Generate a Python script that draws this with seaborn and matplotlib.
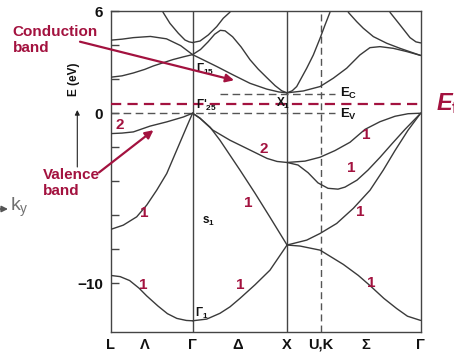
import matplotlib
matplotlib.use("Agg")
import matplotlib.pyplot as plt
import pandas as pd
import seaborn as sns

# ---------------------------------------------------------------
# Silicon band structure along L - Γ - X - U,K - Γ  (k in 2π/a)
# ---------------------------------------------------------------
k_points = [0.0, 0.866, 1.866, 2.220, 3.280]
k_labels = ["L", "Γ", "X", "U,K", "Γ"]
dir_pos = [0.363, 1.347, 2.700]
dir_labels = ["Λ", "Δ", "Σ"]

# band-edge energies (eV)
e_v = 0.0
e_c = 1.15
e_f = 0.55

# --- L -> Γ ------------------------------------------------------
lg_v1_k = [0.0, 0.1, 0.2, 0.3, 0.38, 0.5, 0.6, 0.7, 0.8, 0.866]
lg_v1_e = [-9.55, -9.62, -9.85, -10.3, -10.75, -11.35, -11.8, -12.08, -12.2, -12.22]
lg_v2_k = [0.0, 0.133, 0.275, 0.381, 0.487, 0.593, 0.698, 0.804, 0.866]
lg_v2_e = [-6.84, -6.59, -6.1, -5.41, -4.53, -3.55, -2.18, -0.8, 0.0]
lg_v3_k = [0.0, 0.12, 0.24, 0.416, 0.593, 0.77, 0.866]
lg_v3_e = [-1.2, -1.17, -1.1, -0.76, -0.51, -0.22, 0.0]
lg_c1_k = [0.0, 0.12, 0.24, 0.36, 0.45, 0.56, 0.66, 0.77, 0.866]
lg_c1_e = [2.12, 2.2, 2.37, 2.58, 2.78, 2.98, 3.16, 3.32, 3.45]
lg_c2_k = [0.0, 0.12, 0.24, 0.42, 0.59, 0.74, 0.866]
lg_c2_e = [4.3, 4.36, 4.45, 4.52, 4.38, 3.98, 3.45]
lg_c3_k = [0.553, 0.627, 0.715, 0.786, 0.83, 0.866]
lg_c3_e = [5.95, 5.29, 4.71, 4.31, 4.2, 4.16]

# --- Γ -> X ------------------------------------------------------
gx_v0_k = [0.866, 1.016, 1.156, 1.262, 1.368, 1.527, 1.685, 1.866]
gx_v0_e = [-12.22, -12.12, -11.78, -11.4, -10.9, -10.1, -9.24, -7.76]
gx_v1_k = [0.866, 0.945, 1.051, 1.156, 1.262, 1.368, 1.527, 1.685, 1.866]
gx_v1_e = [0.0, -0.29, -0.82, -1.59, -2.47, -3.35, -4.71, -6.12, -7.76]
gx_v2_k = [0.866, 0.945, 1.082, 1.262, 1.442, 1.654, 1.76, 1.866]
gx_v2_e = [0.0, -0.3, -1.0, -1.59, -2.08, -2.66, -2.84, -2.9]
gx_c1_k = [0.866, 0.945, 1.033, 1.122, 1.191, 1.262]
gx_c1_e = [4.16, 4.25, 4.61, 5.1, 5.59, 5.95]
gx_c2_k = [0.866, 0.95, 1.03, 1.1, 1.16, 1.21, 1.29, 1.38, 1.474, 1.56, 1.651, 1.74, 1.81, 1.866]
gx_c2_e = [3.45, 3.75, 4.2, 4.65, 4.88, 4.85, 4.5, 3.9, 3.15, 2.6, 2.1, 1.62, 1.32, 1.2]
gx_c3_k = [0.866, 1.016, 1.122, 1.297, 1.474, 1.651, 1.78, 1.866]
gx_c3_e = [3.45, 3.04, 2.75, 2.25, 1.76, 1.42, 1.25, 1.2]

# --- X -> U,K -> Γ -----------------------------------------------
xg_v0_k = [1.866, 2.003, 2.215, 2.461, 2.62, 2.744, 2.89, 3.026, 3.14, 3.28]
xg_v0_e = [-7.76, -7.82, -8.06, -8.9, -9.55, -10.15, -10.9, -11.5, -11.95, -12.2]
xg_v1_k = [1.866, 2.074, 2.215, 2.391, 2.567, 2.744, 2.884, 3.008, 3.146, 3.28]
xg_v1_e = [-7.76, -7.47, -7.08, -6.49, -5.6, -4.53, -3.35, -2.2, -1.0, 0.0]
xg_v2_k = [1.866, 1.982, 2.088, 2.193, 2.299, 2.405, 2.479, 2.606, 2.722, 2.849, 2.976, 3.114, 3.28]
xg_v2_e = [-2.9, -3.05, -3.5, -4.1, -4.42, -4.47, -4.35, -3.94, -3.35, -2.6, -1.8, -0.95, 0.0]
xg_v3_k = [1.866, 2.056, 2.215, 2.373, 2.532, 2.691, 2.849, 3.008, 3.146, 3.28]
xg_v3_e = [-2.9, -2.82, -2.59, -2.2, -1.71, -0.95, -0.5, -0.18, -0.03, 0.0]
xg_c1_k = [1.866, 1.92, 1.968, 2.074, 2.144, 2.215, 2.268, 2.32]
xg_c1_e = [1.2, 1.32, 1.57, 2.65, 3.43, 4.41, 5.2, 5.94]
xg_c2_k = [1.866, 2.038, 2.215, 2.355, 2.497, 2.637, 2.743, 2.849, 2.99, 3.132, 3.28]
xg_c2_e = [1.2, 1.31, 1.57, 2.06, 2.65, 3.43, 3.86, 3.92, 3.82, 3.63, 3.4]
xg_c3_k = [2.514, 2.603, 2.673, 2.779, 2.92, 3.061, 3.28]
xg_c3_e = [5.94, 5.39, 5.0, 4.51, 4.12, 3.82, 3.4]
xg_c4_k = [2.955, 3.061, 3.167, 3.23, 3.28]
xg_c4_e = [5.94, 5.2, 4.45, 4.2, 4.14]

bands = [
    ("lg_v1", lg_v1_k, lg_v1_e), ("lg_v2", lg_v2_k, lg_v2_e),
    ("lg_v3", lg_v3_k, lg_v3_e), ("lg_c1", lg_c1_k, lg_c1_e),
    ("lg_c2", lg_c2_k, lg_c2_e), ("lg_c3", lg_c3_k, lg_c3_e),
    ("gx_v0", gx_v0_k, gx_v0_e), ("gx_v1", gx_v1_k, gx_v1_e),
    ("gx_v2", gx_v2_k, gx_v2_e), ("gx_c1", gx_c1_k, gx_c1_e),
    ("gx_c2", gx_c2_k, gx_c2_e), ("gx_c3", gx_c3_k, gx_c3_e),
    ("xg_v0", xg_v0_k, xg_v0_e), ("xg_v1", xg_v1_k, xg_v1_e),
    ("xg_v2", xg_v2_k, xg_v2_e), ("xg_v3", xg_v3_k, xg_v3_e),
    ("xg_c1", xg_c1_k, xg_c1_e), ("xg_c2", xg_c2_k, xg_c2_e),
    ("xg_c3", xg_c3_k, xg_c3_e), ("xg_c4", xg_c4_k, xg_c4_e),
]
df = pd.concat(
    [pd.DataFrame({"k": k, "E": e, "band": name}) for name, k, e in bands],
    ignore_index=True,
)

# ---------------------------------------------------------------
sns.set_theme(style="white")
plt.rcParams["font.family"] = ["Liberation Sans", "DejaVu Sans"]
plt.rcParams["mathtext.fontset"] = "custom"
plt.rcParams["mathtext.rm"] = "Liberation Sans"
plt.rcParams["mathtext.bf"] = "Liberation Sans:bold"
plt.rcParams["mathtext.default"] = "bf"

RED = "#A3123F"
FRAME = "#444444"
BAND = "#3a3a3a"
W, H = 454, 354

fig = plt.figure(figsize=(W / 100, H / 100), dpi=100)
fig.patch.set_facecolor("white")
ax = fig.add_axes([110.7 / W, 1 - 332 / H, 310 / W, (332 - 11.3) / H])
ax.set_facecolor("white")

sns.lineplot(data=df, x="k", y="E", units="band", estimator=None, sort=False,
             color=BAND, linewidth=1.0, legend=False, ax=ax, zorder=3)

ax.set_xlim(k_points[0], k_points[-1])
ax.set_ylim(-12.88, 5.98)
ax.set_xlabel("")
ax.set_ylabel("")

# symmetry lines
for kp in k_points[1:3]:
    ax.axvline(kp, color=FRAME, lw=1.0, zorder=2)
ax.axvline(k_points[3], color="#555555", lw=1.0, dashes=(5, 3), zorder=2)

# band edges and Fermi level
ax.plot([k_points[0], 2.373], [e_v, e_v], color="#555555", lw=1.0, dashes=(5.5, 3.2), zorder=2)
ax.plot([1.159, 2.373], [e_c, e_c], color="#555555", lw=1.0, dashes=(5.5, 3.2), zorder=2)
ax.plot([k_points[0], k_points[-1]], [e_f, e_f], color=RED, lw=1.6, dashes=(4.6, 2.8), zorder=4)

for s in ax.spines.values():
    s.set_color(FRAME)
    s.set_linewidth(1.0)

# axes ticks
ax.set_yticks([-10, -8, -6, -4, -2, 0, 2, 4, 6])
ax.set_yticklabels(["−10", "", "", "", "", "0", "", "", "6"])
ax.tick_params(axis="y", direction="in", length=5.5, width=1.0, color=FRAME,
               pad=5.5, labelsize=11, left=True, right=False)
ax.set_xticks(k_points + dir_pos)
ax.set_xticklabels(k_labels + dir_labels)
ax.tick_params(axis="x", length=0, pad=4, labelsize=10.5, bottom=True)
for lab in ax.get_xticklabels() + ax.get_yticklabels():
    lab.set_fontweight("bold")
    lab.set_family(["Liberation Sans Narrow", "Liberation Sans", "DejaVu Sans"])
    lab.set_color("#111111")

# degeneracy numbers
deg_k = [0.098, 0.358, 0.345, 1.368, 1.456, 1.615, 2.709, 2.55, 2.638, 2.762]
deg_e = [-0.71, -5.85, -10.12, -10.12, -5.31, -2.08, -1.29, -3.25, -5.8, -10.02]
deg_t = ["2", "1", "1", "1", "1", "2", "1", "1", "1", "1"]
for kk, ee, tt in zip(deg_k, deg_e, deg_t):
    ax.text(kk, ee, tt, color=RED, fontsize=11, fontweight="bold",
            ha="center", va="center", zorder=5)

# symmetry-point labels
sym_kw = dict(fontsize=8.5, fontweight="bold", color="#111111", zorder=5)
ax.text(0.905, 2.6, "Γ$_{15}$", ha="left", va="center", **sym_kw)
ax.text(0.905, 0.44, "Γ'$_{25}$", ha="left", va="center", **sym_kw)
ax.text(1.825, 0.56, "X$_1$", ha="center", va="center", **sym_kw)
ax.text(0.892, -11.76, "Γ$_1$", ha="left", va="center", **sym_kw)
ax.text(1.035, -6.35, "s$_1$", ha="center", va="center", **sym_kw)
ax.text(2.426, 1.18, "E$_C$", ha="left", va="center", fontsize=9.5,
        fontweight="bold", color="#111111", zorder=5)
ax.text(2.426, -0.06, "E$_V$", ha="left", va="center", fontsize=9.5,
        fontweight="bold", color="#111111", zorder=5)


def fp(x, y):
    """figure pixel position measured from the top-left corner"""
    return (x, H - y)


# Fermi-level label
fig.text(436 / W, 1 - 104 / H, "E$_f$", color=RED, fontsize=17,
         fontweight="bold", style="italic", ha="left", va="center")

# annotations with arrows
fig.text(12.7 / W, 1 - 25 / H, "Conduction\nband", color=RED, fontsize=11,
         fontweight="bold", ha="left", va="top", linespacing=1.2)
ax.annotate("", xy=(1.305, 1.94), xycoords="data",
            xytext=fp(80, 41.7), textcoords="figure pixels",
            arrowprops=dict(arrowstyle="-|>", color=RED, lw=1.6,
                            mutation_scale=12, shrinkA=0, shrinkB=0),
            annotation_clip=False, zorder=6)
fig.text(43 / W, 1 - 168 / H, "Valence\nband", color=RED, fontsize=11,
         fontweight="bold", ha="left", va="top", linespacing=1.2)
ax.annotate("", xy=(0.452, -1.0), xycoords="data",
            xytext=fp(99, 172.5), textcoords="figure pixels",
            arrowprops=dict(arrowstyle="-|>", color=RED, lw=1.6,
                            mutation_scale=12, shrinkA=0, shrinkB=0),
            annotation_clip=False, zorder=6)

# energy axis caption
fig.text(74 / W, 1 - 79 / H, "E (eV)", rotation=90, fontsize=8.5,
         fontweight="bold", ha="center", va="center", color="#111111")
ax.annotate("", xy=fp(77.3, 110), xycoords="figure pixels",
            xytext=fp(77.3, 167), textcoords="figure pixels",
            arrowprops=dict(arrowstyle="-|>", color="#222222", lw=0.8,
                            mutation_scale=7, shrinkA=0, shrinkB=0),
            annotation_clip=False)

# k_y direction marker
ax.annotate("", xy=fp(8, 209), xycoords="figure pixels",
            xytext=fp(-8, 209), textcoords="figure pixels",
            arrowprops=dict(arrowstyle="-|>", color="#555555", lw=1.2,
                            mutation_scale=9, shrinkA=0, shrinkB=0),
            annotation_clip=False)
fig.text(10 / W, 1 - 207 / H, r"k$_{\mathregular{y}}$", fontsize=14,
         color="#707070", ha="left", va="center")

fig.savefig("out.png", dpi=100, facecolor="white")
